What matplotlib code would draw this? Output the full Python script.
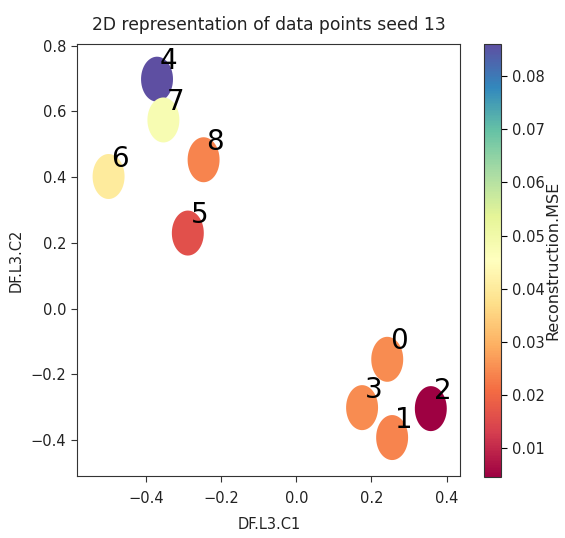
import numpy as np
import matplotlib
matplotlib.use("Agg")
import matplotlib.pyplot as plt
from matplotlib.path import Path

labels = ["0", "1", "2", "3", "4", "5", "6", "7", "8"]
x_vals = [0.242, 0.255, 0.358, 0.175, -0.371, -0.289, -0.500, -0.354, -0.247]
y_vals = [-0.154, -0.392, -0.304, -0.301, 0.698, 0.230, 0.402, 0.574, 0.453]
mse_vals = [0.025, 0.024, 0.0047, 0.025, 0.0861, 0.016, 0.040, 0.048, 0.024]
cbar_ticks = [0.01, 0.02, 0.03, 0.04, 0.05, 0.06, 0.07, 0.08]

plt.rcParams["font.family"] = ["DejaVu Sans"]

fig = plt.figure(figsize=(5.65, 5.38), dpi=100)
ax = fig.add_axes([0.137, 0.1152, 0.678, 0.803])
cax = fig.add_axes([0.857, 0.1140, 0.030, 0.805])

t = np.linspace(0, 2 * np.pi, 60)
ell = Path(np.column_stack([0.71 * np.cos(t), np.sin(t)]), closed=True)

sc = ax.scatter(x_vals, y_vals, c=mse_vals, cmap="Spectral", vmin=0.0047, vmax=0.0861,
                s=1050, marker=ell, linewidths=0)
for lab, xv, yv in zip(labels, x_vals, y_vals):
    ax.text(xv + 0.008, yv + 0.012, lab, fontsize=20, ha="left", va="bottom", color="black")

ax.set_xlim(-0.583, 0.437)
ax.set_ylim(-0.509, 0.805)
ax.set_xticks([-0.4, -0.2, 0.0, 0.2, 0.4])
ax.set_yticks([-0.4, -0.2, 0.0, 0.2, 0.4, 0.6, 0.8])
ax.tick_params(labelsize=10.5, length=4.5, color="#333333", labelcolor="#222222")
ax.tick_params(axis="x", pad=6)
ax.set_xlabel("DF.L3.C1", fontsize=10.5, color="#222222", labelpad=8)
ax.set_ylabel("DF.L3.C2", fontsize=10.5, color="#222222", labelpad=5)
ax.set_title("2D representation of data points seed 13", fontsize=12.3, color="#222222", pad=10)
for s in ax.spines.values():
    s.set_color("#333333")

cb = fig.colorbar(sc, cax=cax, ticks=cbar_ticks)
cb.ax.tick_params(labelsize=10.5, length=4.5, labelcolor="#222222")
cb.set_label("Reconstruction.MSE", fontsize=11.5, color="#222222")
cb.ax.yaxis.label.set_verticalalignment("center")
cb.ax.yaxis.set_label_coords(4.05, 0.5)
cb.outline.set_edgecolor("#333333")

fig.savefig("out.png", dpi=100)
